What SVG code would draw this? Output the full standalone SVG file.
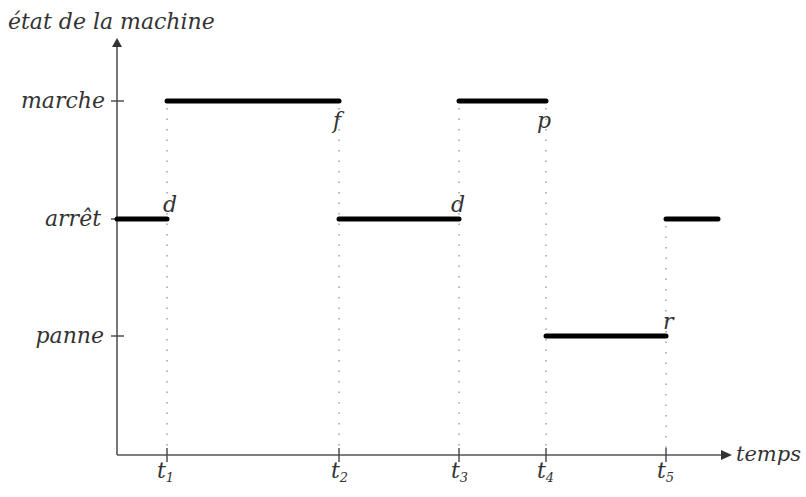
<svg xmlns="http://www.w3.org/2000/svg" width="806" height="497" viewBox="0 0 806 497">
<defs>
<style>
text{font-family:"DejaVu Serif","Liberation Serif",serif;font-style:italic;fill:#333;font-size:22px}
.axis{stroke:#555;stroke-width:1.6;fill:none}
.tick{stroke:#444;stroke-width:1.4}
.dot{stroke:#888;stroke-width:1.2;stroke-dasharray:1.5 9}
.state{stroke:#000;stroke-width:5;stroke-linecap:round}
.sub{font-size:13px}
.head{fill:#333}
</style>
</defs>
<rect width="806" height="497" fill="#fff"/>
<g id="axes">
<path class="axis" d="M117,455 V44"/>
<path class="axis" d="M117,455 H722"/>
<path class="head" d="M721,450 L732,455 L721,460 z"/>
<path class="head" d="M112,47 L117,38 L122,47 z"/>
<text x="8" y="29">état de la machine</text>
<text x="736" y="461" style="font-size:21px">temps</text>
</g>
<g id="levels">
<line class="tick" x1="111" y1="101" x2="124" y2="101"/>
<line class="tick" x1="111" y1="219" x2="124" y2="219"/>
<line class="tick" x1="111" y1="336" x2="124" y2="336"/>
<text x="105" y="108" text-anchor="end">marche</text>
<text x="101" y="226" text-anchor="end">arrêt</text>
<text x="104" y="343" text-anchor="end">panne</text>
</g>
<g id="times">
<line class="tick" x1="167" y1="448" x2="167" y2="462"/>
<line class="tick" x1="339" y1="448" x2="339" y2="462"/>
<line class="tick" x1="459" y1="448" x2="459" y2="462"/>
<line class="tick" x1="546" y1="448" x2="546" y2="462"/>
<line class="tick" x1="666" y1="448" x2="666" y2="462"/>
<text x="157" y="478">t<tspan class="sub" dy="4">1</tspan></text>
<text x="331" y="478">t<tspan class="sub" dy="4">2</tspan></text>
<text x="451" y="478">t<tspan class="sub" dy="4">3</tspan></text>
<text x="537" y="478">t<tspan class="sub" dy="4">4</tspan></text>
<text x="657" y="478">t<tspan class="sub" dy="4">5</tspan></text>
</g>
<g id="connectors">
<line class="dot" x1="167" y1="108" x2="167" y2="448"/>
<line class="dot" x1="339" y1="108" x2="339" y2="448"/>
<line class="dot" x1="459" y1="108" x2="459" y2="448"/>
<line class="dot" x1="546" y1="108" x2="546" y2="448"/>
<line class="dot" x1="666" y1="226" x2="666" y2="448"/>
</g>
<g id="states">
<line class="state" x1="117" y1="219" x2="167" y2="219"/>
<line class="state" x1="167" y1="101" x2="339" y2="101"/>
<line class="state" x1="339" y1="219" x2="459" y2="219"/>
<line class="state" x1="459" y1="101" x2="546" y2="101"/>
<line class="state" x1="546" y1="336" x2="666" y2="336"/>
<line class="state" x1="666" y1="219" x2="718" y2="219"/>
</g>
<g id="events">
<text x="163" y="212">d</text>
<text x="333" y="128">f</text>
<text x="451" y="212">d</text>
<text x="537" y="128">p</text>
<text x="663" y="329">r</text>
</g>
</svg>
